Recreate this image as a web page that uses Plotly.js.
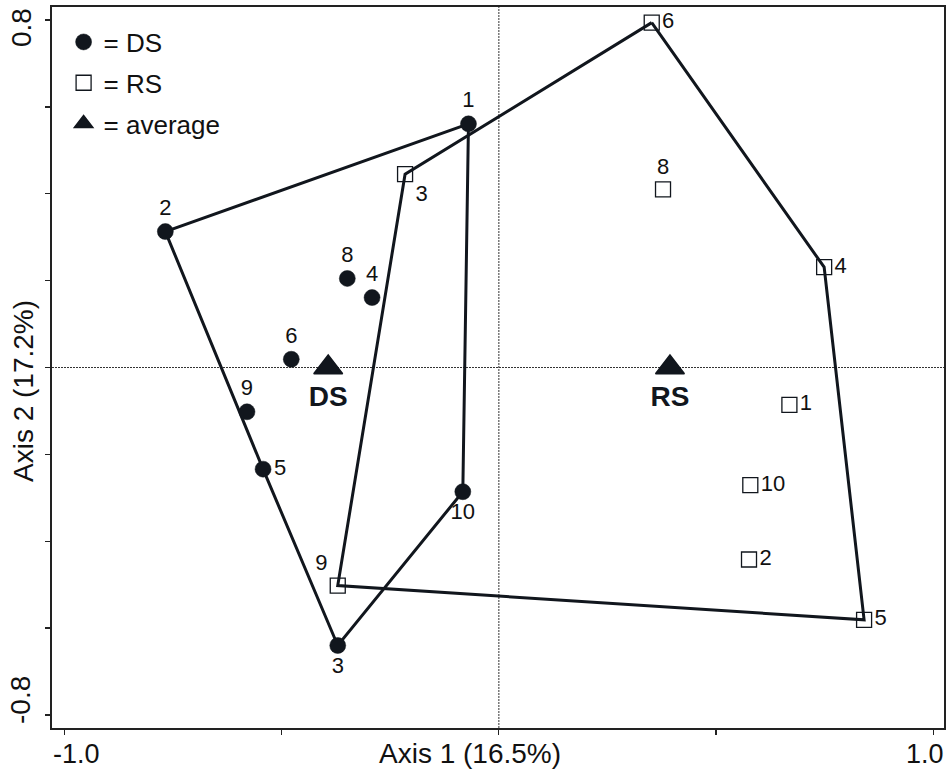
<!DOCTYPE html>
<html>
<head>
<meta charset="utf-8">
<script src="https://cdn.plot.ly/plotly-3.0.1.min.js"></script>
<style>
  html, body { margin: 0; padding: 0; background: #ffffff; }
  #chart { width: 951px; height: 771px; }
</style>
</head>
<body>
<div id="chart"></div>
<script>
// ---- data ----
const dsIds = ['1', '2', '3', '4', '5', '6', '8', '9', '10'];
const dsX = [-0.070, -0.768, -0.371, -0.292, -0.543, -0.478, -0.349, -0.580, -0.083];
const dsY = [0.561, 0.313, -0.640, 0.161, -0.234, 0.019, 0.205, -0.102, -0.286];
const dsLabelPos = ['top center', 'top center', 'bottom center', 'top center', 'middle right',
                    'top center', 'top center', 'top center', 'bottom center'];

const rsIds = ['1', '2', '3', '4', '5', '6', '8', '9', '10'];
const rsX = [0.669, 0.576, -0.216, 0.749, 0.841, 0.352, 0.378, -0.371, 0.579];
const rsY = [-0.086, -0.442, 0.445, 0.231, -0.581, 0.794, 0.410, -0.502, -0.271];
const rsLabelPos = ['middle right', 'middle right', 'bottom right', 'middle right', 'middle right',
                    'middle right', 'top center', 'top left', 'middle right'];

const dsHull = ['1', '2', '5', '3', '10', '1'];
const rsHull = ['6', '4', '5', '9', '3', '6'];

const avgNames = ['DS', 'RS'];
const avgX = [-0.393, 0.394];
const avgY = [0.0, 0.0];

const xTickVals = [-1.0, -0.5, 0.0, 0.5, 1.0];
const xLabelVals = [-1.0, 1.0];
const xLabelText = ['-1.0', '1.0'];
const yTickVals = [-0.8, -0.6, -0.4, -0.2, 0.0, 0.2, 0.4, 0.6, 0.8];
const yLabelVals = [0.8, -0.8];
const yLabelText = ['0.8', '-0.8'];

const xTitle = 'Axis 1 (16.5%)';
const yTitle = 'Axis 2 (17.2%)';
const legendNames = ['= DS', '= RS', '= average'];

// ---- styling ----
const INK = '#11161d';
const FONT = 'Liberation Sans, Arial, Helvetica, sans-serif';
const PLOT_L = 52, PLOT_W = 892, PLOT_B = 728, PLOT_H = 721;

function hullCoords(order, ids, xs, ys) {
  const hx = [], hy = [];
  order.forEach(function (id) {
    const i = ids.indexOf(id);
    hx.push(xs[i]);
    hy.push(ys[i]);
  });
  return { x: hx, y: hy };
}
const dsPoly = hullCoords(dsHull, dsIds, dsX, dsY);
const rsPoly = hullCoords(rsHull, rsIds, rsX, rsY);

const traces = [
  { x: dsPoly.x, y: dsPoly.y, mode: 'lines', line: { color: INK, width: 3 },
    showlegend: false, hoverinfo: 'skip' },
  { x: rsPoly.x, y: rsPoly.y, mode: 'lines', line: { color: INK, width: 3 },
    showlegend: false, hoverinfo: 'skip' },
  { x: dsX, y: dsY, mode: 'markers', name: legendNames[0], legendgroup: 'a',
    marker: { symbol: 'circle', size: 16, color: INK, line: { width: 0.5, color: INK } } },
  { x: rsX, y: rsY, mode: 'markers', name: legendNames[1], legendgroup: 'b',
    marker: { symbol: 'square-open', size: 15, color: INK, line: { width: 1.3 } } },
  { x: avgX, y: avgY, mode: 'markers', name: legendNames[2], legendgroup: 'c',
    marker: { symbol: 'triangle-up', size: 25, color: INK, line: { width: 1.5, color: INK } } },
  // labels
  { x: dsX, y: dsY, mode: 'markers+text', text: dsIds, textposition: dsLabelPos,
    marker: { size: 16, opacity: 0 }, textfont: { family: FONT, size: 22, color: '#111' },
    showlegend: false, hoverinfo: 'skip' },
  { x: rsX, y: rsY, mode: 'markers+text', text: rsIds, textposition: rsLabelPos,
    marker: { size: 15, opacity: 0 }, textfont: { family: FONT, size: 22, color: '#111' },
    showlegend: false, hoverinfo: 'skip' },
  { x: avgX, y: avgY, mode: 'markers+text', text: avgNames, textposition: 'bottom center',
    marker: { size: 27, opacity: 0 },
    textfont: { family: FONT, size: 28, color: INK, weight: 'bold' },
    showlegend: false, hoverinfo: 'skip' }
];

const annotations = [];
xLabelVals.forEach(function (v, i) {
  annotations.push({ x: v, xref: 'x', y: 0, yref: 'paper', text: xLabelText[i], showarrow: false,
    xanchor: 'center', yanchor: 'middle', xshift: i === 0 ? 12 : -8, yshift: -26,
    font: { family: FONT, size: 27, color: '#111' } });
});
yLabelVals.forEach(function (v, i) {
  annotations.push({ x: 0, xref: 'paper', y: v, yref: 'y', text: yLabelText[i], showarrow: false,
    textangle: -90, xanchor: 'center', yanchor: 'middle', xshift: -31, yshift: i === 0 ? -8 : 15,
    font: { family: FONT, size: 28, color: '#111' } });
});
annotations.push({ x: (470 - PLOT_L) / PLOT_W, xref: 'paper', y: 0, yref: 'paper', text: xTitle,
  showarrow: false, xanchor: 'center', yanchor: 'middle', yshift: -25,
  font: { family: FONT, size: 28, color: '#111' } });
annotations.push({ x: 0, xref: 'paper', y: (PLOT_B - 391) / PLOT_H, yref: 'paper', text: yTitle,
  showarrow: false, textangle: -90, xanchor: 'center', yanchor: 'middle', xshift: -29,
  font: { family: FONT, size: 28, color: '#111' } });

const layout = {
  width: 951, height: 771,
  margin: { l: 52, r: 7, t: 7, b: 43, pad: 0 },
  paper_bgcolor: '#ffffff', plot_bgcolor: '#ffffff',
  font: { family: FONT, color: '#111' },
  xaxis: {
    range: [-1.029, 1.025], tickvals: xTickVals, showticklabels: false,
    ticks: 'outside', ticklen: 5, tickwidth: 1.2, tickcolor: '#222',
    showline: true, mirror: true, linecolor: '#222', linewidth: 1.8,
    showgrid: false, zeroline: false
  },
  yaxis: {
    range: [-0.83, 0.83], tickvals: yTickVals, showticklabels: false,
    ticks: 'outside', ticklen: 5, tickwidth: 1.2, tickcolor: '#222',
    showline: true, mirror: true, linecolor: '#222', linewidth: 1.8,
    showgrid: false, zeroline: false
  },
  shapes: [
    { type: 'line', layer: 'below', xref: 'x', yref: 'paper', x0: 0, x1: 0, y0: 0, y1: 1,
      line: { color: '#333', width: 1, dash: '2px,1px' } },
    { type: 'line', layer: 'below', xref: 'paper', yref: 'y', x0: 0, x1: 1, y0: 0, y1: 0,
      line: { color: '#333', width: 1, dash: '2px,1px' } }
  ],
  legend: {
    x: 0.013, y: 0.984, xanchor: 'left', yanchor: 'top',
    bgcolor: 'rgba(0,0,0,0)', borderwidth: 0,
    font: { family: FONT, size: 26, color: '#111' },
    traceorder: 'grouped', tracegroupgap: 4
  },
  annotations: annotations,
  showlegend: true
};

Plotly.newPlot('chart', traces, layout, { staticPlot: true, displayModeBar: false });
</script>
</body>
</html>
